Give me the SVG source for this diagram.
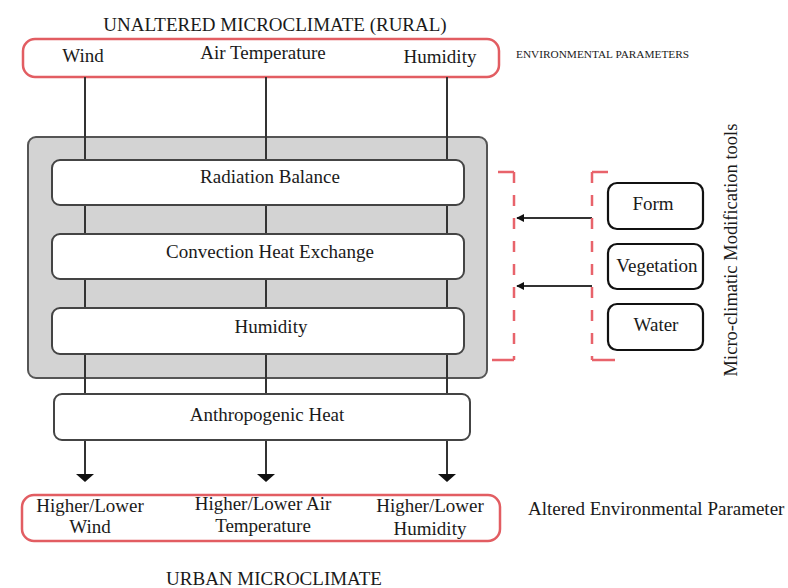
<svg xmlns="http://www.w3.org/2000/svg" width="788" height="588" viewBox="0 0 788 588">
<style>
text{font-family:"Liberation Serif","Times New Roman",serif;fill:#1a1a1a;font-size:19px}
.c{text-anchor:middle}
.red{fill:none;stroke:#e25d62;stroke-width:2.5}
.box{fill:#fff;stroke:#444;stroke-width:2}
.tool{fill:#fff;stroke:#111;stroke-width:2.2}
.ln{stroke:#333;stroke-width:2;fill:none}
.dash{stroke:#e8636b;stroke-width:2.5;fill:none;stroke-dasharray:11 12}
.tick{stroke:#e8636b;stroke-width:2.5;fill:none}
</style>
<defs>
<marker id="ah" viewBox="0 0 10 10" refX="9" refY="5" markerWidth="8" markerHeight="8" markerUnits="userSpaceOnUse" orient="auto">
<path d="M0,0 L10,5 L0,10 z" fill="#111"/>
</marker>
</defs>
<rect width="788" height="588" fill="#fff"/>

<text class="c" x="275" y="31">UNALTERED MICROCLIMATE (RURAL)</text>
<text x="516" y="58" style="font-size:11.3px">ENVIRONMENTAL  PARAMETERS</text>

<g id="rural">
<rect class="red" x="23" y="39" width="476" height="38" rx="12"/>
<text class="c" x="83" y="62">Wind</text>
<text class="c" x="263" y="59">Air Temperature</text>
<text class="c" x="440" y="63">Humidity</text>
</g>

<g id="urban-processes">
<rect x="28" y="137" width="459" height="241" rx="8" fill="#d3d3d3" stroke="#555" stroke-width="2"/>
</g>

<g id="connectors">
<line class="ln" x1="85" y1="77" x2="85" y2="475"/>
<line class="ln" x1="266" y1="77" x2="266" y2="475"/>
<line class="ln" x1="447" y1="77" x2="447" y2="475"/>
<path d="M76,474 L94,474 L85,482 z" fill="#111"/>
<path d="M257,474 L275,474 L266,482 z" fill="#111"/>
<path d="M438,474 L456,474 L447,482 z" fill="#111"/>
<line class="ln" x1="592" y1="218" x2="517" y2="218" marker-end="url(#ah)"/>
<line class="ln" x1="592" y1="286" x2="517" y2="286" marker-end="url(#ah)"/>
</g>

<g id="radiation">
<rect class="box" x="52" y="160" width="412" height="45" rx="8"/>
<text class="c" x="270" y="183">Radiation Balance</text>
</g>
<g id="convection">
<rect class="box" x="52" y="234" width="412" height="45" rx="8"/>
<text class="c" x="270" y="258">Convection Heat Exchange</text>
</g>
<g id="humidity">
<rect class="box" x="52" y="308" width="412" height="46" rx="8"/>
<text class="c" x="271" y="333">Humidity</text>
</g>
<g id="anthropogenic">
<rect class="box" x="54" y="394" width="416" height="46" rx="8"/>
<text class="c" x="267" y="421">Anthropogenic Heat</text>
</g>

<g id="brackets">
<path class="tick" d="M498,172 H514"/>
<path class="dash" d="M514,172 V360"/>
<path class="tick" d="M492,360 H514"/>
<path class="tick" d="M592,172 H608"/>
<path class="dash" d="M592,172 V360"/>
<path class="tick" d="M592,360 H615"/>
</g>

<g id="form">
<rect class="tool" x="608" y="183" width="95" height="46" rx="9"/>
<text class="c" x="653" y="210">Form</text>
</g>
<g id="vegetation">
<rect class="tool" x="608" y="244" width="95" height="45" rx="9"/>
<text class="c" x="657" y="272">Vegetation</text>
</g>
<g id="water">
<rect class="tool" x="608" y="304" width="95" height="46" rx="9"/>
<text class="c" x="656" y="331">Water</text>
</g>
<text class="c" transform="translate(737,250) rotate(-90)" style="font-size:18.5px">Micro-climatic Modification tools</text>

<g id="urban">
<rect class="red" x="22" y="495" width="478" height="46" rx="12"/>
<text class="c" x="90" y="512">Higher/Lower</text>
<text class="c" x="90" y="533">Wind</text>
<text class="c" x="263" y="510">Higher/Lower Air</text>
<text class="c" x="263" y="532">Temperature</text>
<text class="c" x="430" y="512">Higher/Lower</text>
<text class="c" x="430" y="535">Humidity</text>
</g>
<text x="528" y="515">Altered Environmental Parameter</text>
<text class="c" x="274" y="585">URBAN MICROCLIMATE</text>
</svg>
